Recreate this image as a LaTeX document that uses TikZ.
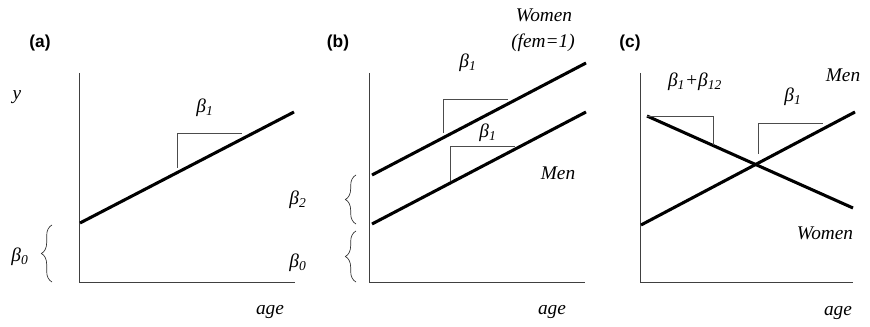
\documentclass[tikz,border=0pt]{standalone}
\usepackage{fontspec}
\setmainfont{Liberation Serif}
\setsansfont{Liberation Sans}
\newfontfamily\labfont{Liberation Serif Italic}
\usetikzlibrary{decorations.pathreplacing}
\newcommand{\bsub}[1]{β\textsubscript{#1}}

\begin{document}
\begin{tikzpicture}[x=0.75pt, y=-0.75pt,
    axis/.style={draw=black!75, line width=0.6pt},
    fitline/.style={draw=black, line width=2.3pt},
    slope/.style={draw=black!70, line width=0.6pt},
    lab/.style={font=\fontsize{14.5}{16}\selectfont\labfont, inner sep=0pt},
    panel/.style={font=\fontsize{13}{15}\selectfont\sffamily\bfseries, inner sep=0pt},
    brc/.style={draw=black!80, line width=0.5pt, decorate, decoration={brace, amplitude=8pt}}]
    \useasboundingbox (0,0) rectangle (870,327);

    % (a) one slope
    \node [panel] (pa) at (40,43) {(a)};
    \coordinate (ay) at (79,73);
    \coordinate (ao) at (79,282);
    \coordinate (ax) at (295,282);
    \draw [axis] (ay) -- (ao) -- (ax);
    \coordinate (af1) at (80,223);
    \coordinate (af2) at (294,112);
    \draw [fitline] (af1) -- (af2);
    \coordinate (at1) at (177,168);
    \coordinate (at2) at (177,133);
    \coordinate (at3) at (242,133);
    \draw [slope] (at1) -- (at2) -- (at3);
    \coordinate (ab1) at (52,282);
    \coordinate (ab2) at (52,225);
    \draw [brc] (ab1) -- (ab2);
    \node [lab] (ylab) at (17,97) {y};
    \node [lab] (ab1lab) at (205,108) {\bsub{1}};
    \node [lab] (ab0lab) at (20,257) {\bsub{0}};
    \node [lab] (aage) at (270,312) {age};

    % (b) two parallel lines
    \node [panel] (pb) at (338,43) {(b)};
    \coordinate (by) at (369,73);
    \coordinate (bo) at (369,282);
    \coordinate (bx) at (585,282);
    \draw [axis] (by) -- (bo) -- (bx);
    \coordinate (bw1) at (372,175);
    \coordinate (bw2) at (586,63);
    \coordinate (bm1) at (372,224);
    \coordinate (bm2) at (586,112);
    \draw [fitline] (bw1) -- (bw2);
    \draw [fitline] (bm1) -- (bm2);
    \coordinate (bt1) at (443,133);
    \coordinate (bt2) at (443,99);
    \coordinate (bt3) at (508,99);
    \draw [slope] (bt1) -- (bt2) -- (bt3);
    \coordinate (bu1) at (450,181);
    \coordinate (bu2) at (450,146);
    \coordinate (bu3) at (515,146);
    \draw [slope] (bu1) -- (bu2) -- (bu3);
    \coordinate (bb1) at (356,224);
    \coordinate (bb2) at (356,175);
    \coordinate (bb3) at (356,282);
    \coordinate (bb4) at (356,231);
    \draw [brc] (bb1) -- (bb2);
    \draw [brc] (bb3) -- (bb4);
    \node [lab] (bb1lab) at (468,63) {\bsub{1}};
    \node [lab] (bb1low) at (488,133) {\bsub{1}};
    \node [lab] (bwom) at (544,15) {Women};
    \node [lab] (bfem) at (543,43) {(fem=1)};
    \node [lab] (bmen) at (558,173) {Men};
    \node [lab] (bb2lab) at (298,200) {\bsub{2}};
    \node [lab] (bb0lab) at (298,263) {\bsub{0}};
    \node [lab] (bage) at (552,312) {age};

    % (c) interaction
    \node [panel] (pc) at (630,43) {(c)};
    \coordinate (cy) at (640,73);
    \coordinate (co) at (640,282);
    \coordinate (cx) at (853,282);
    \draw [axis] (cy) -- (co) -- (cx);
    \coordinate (cm1) at (641,225);
    \coordinate (cm2) at (855,112);
    \coordinate (cw1) at (647,116);
    \coordinate (cw2) at (853,208);
    \draw [fitline] (cm1) -- (cm2);
    \draw [fitline] (cw1) -- (cw2);
    \coordinate (ct1) at (647,116);
    \coordinate (ct2) at (713,116);
    \coordinate (ct3) at (713,145);
    \draw [slope] (ct1) -- (ct2) -- (ct3);
    \coordinate (cu1) at (758,154);
    \coordinate (cu2) at (758,123);
    \coordinate (cu3) at (823,123);
    \draw [slope] (cu1) -- (cu2) -- (cu3);
    \node [lab] (cint) at (695,82) {\bsub{1}+\bsub{12}};
    \node [lab] (cb1lab) at (793,97) {\bsub{1}};
    \node [lab] (cmen) at (843,75) {Men};
    \node [lab] (cwom) at (825,233) {Women};
    \node [lab] (cage) at (838,313) {age};
\end{tikzpicture}
\end{document}
